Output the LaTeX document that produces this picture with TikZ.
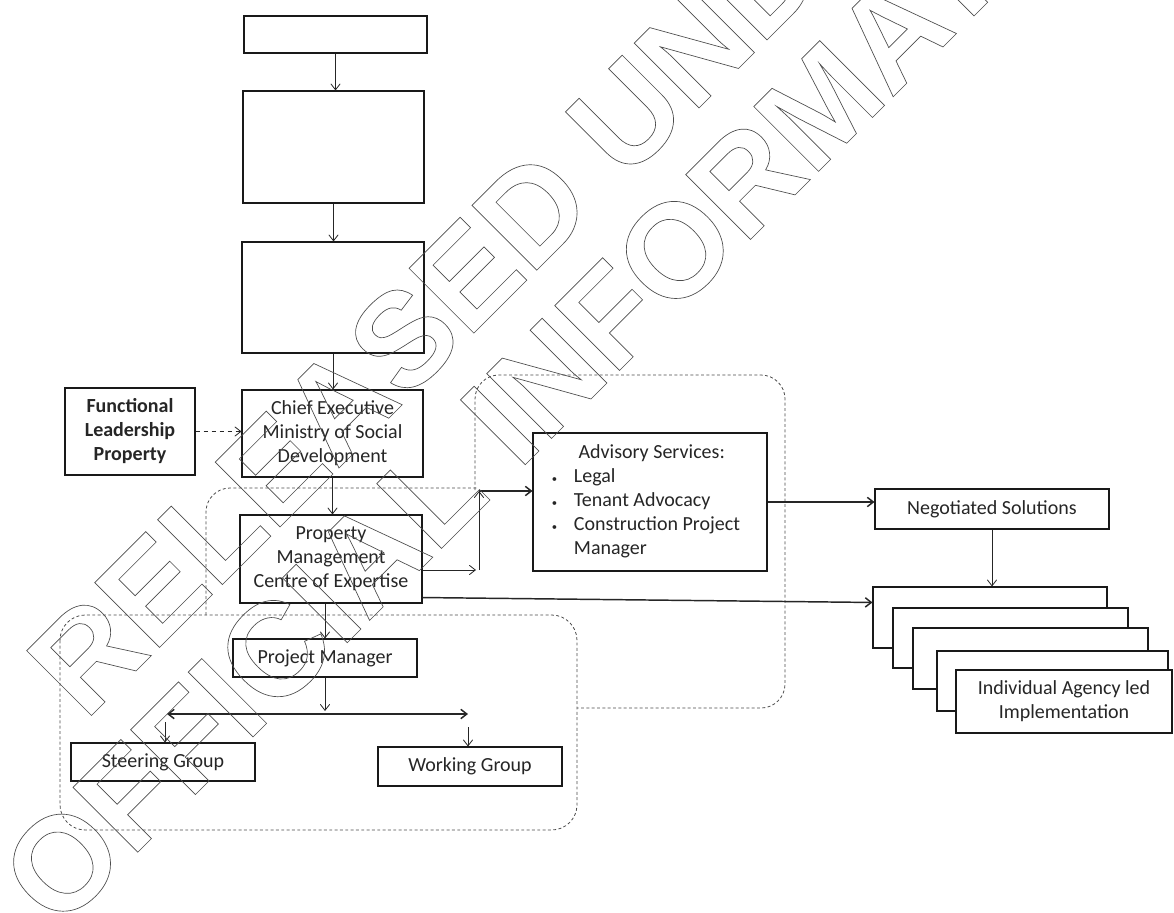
\documentclass[tikz,border=0pt]{standalone}
\usepackage{fontspec}
\setmainfont{Carlito}
\newfontfamily\wmfont{Liberation Sans}
\usetikzlibrary{arrows.meta,calc}
\newcommand\outl[1]{\special{pdf:literal direct 1 Tr 0.5 w 0.3 G}#1\special{pdf:literal direct 0 Tr 0 G}}
\begin{document}
\begin{tikzpicture}[x=0.75pt,y=-0.75pt,
  box/.style={draw=black!90, line width=0.8pt, fill=white, inner sep=0pt, align=center,
    text=black!85, font=\fontsize{15}{18}\selectfont},
  sz/.style 2 args={minimum width=#1*0.75pt, minimum height=#2*0.75pt},
  arr/.style={-{Straight Barb[length=4.5pt,width=7pt]}, line width=0.6pt, draw=black!85},
  arrboth/.style={{Straight Barb[length=4.5pt,width=7pt]}-{Straight Barb[length=4.5pt,width=7pt]}, line width=1.1pt, draw=black!85},
  thk/.style={line width=1.1pt},
  grp/.style={draw=black!70, line width=0.6pt, dash pattern=on 2.2pt off 1.8pt},
  wm/.style={rotate=45, anchor=base west, inner sep=0pt, font=\wmfont\bfseries\fontsize{100}{105}\selectfont}
]
\useasboundingbox (0,0) rectangle (1174,913);
\fill[white] (0,0) rectangle (1174,913);

% dashed groups
\draw[grp, rounded corners=18pt] (206,615) -- (206,488) -- (477,488);
\draw[grp, rounded corners=18pt] (475,490) -- (475,375) -- (785,375) -- (785,708) -- (577,708);
\draw[grp, rounded corners=19pt] (60,615) rectangle (577,830);

% boxes
\node[box, sz={183}{37}] (b1) at (335.5,34.5) {};
\node[box, sz={181}{112}] (b2) at (333.5,147) {};
\node[box, sz={182}{111}] (b3) at (333,297.5) {};
\node[box, sz={181}{87}] (ce) at (332.5,433.5) {Chief Executive\\Ministry of Social\\Development};
\node[box, sz={130}{87}, font=\fontsize{15}{18}\selectfont\bfseries] (fl) at (130,431.5) {Functional\\Leadership\\Property};
\node[box, sz={182}{88}] (pm) at (331,559) {Property\\Management\\Centre of Expertise};
\node[box, sz={234}{138}] (adv) at (650,502) {%
  \begin{tabular}{@{}p{16.5pt}@{}l@{}}
  \multicolumn{2}{@{}l@{}}{\hspace*{20pt}Advisory Services:}\\
  {\footnotesize\textbullet} & Legal\\
  {\footnotesize\textbullet} & Tenant Advocacy\\
  {\footnotesize\textbullet} & Construction Project\\
   & Manager
  \end{tabular}\hspace*{6pt}};
\node[box, sz={234}{40}] (neg) at (992,509) {Negotiated Solutions};
\node[box, sz={234}{61}] (s1) at (990,617.5) {};
\node[box, sz={235}{60}] (s2) at (1010.5,638) {};
\node[box, sz={235}{61}] (s3) at (1030.5,658.5) {};
\node[box, sz={231}{60}] (s4) at (1052.5,681) {};
\node[box, sz={216}{63}] (s5) at (1064,701.5) {Individual Agency led\\Implementation};
\node[box, sz={184}{38}] (proj) at (325,658) {Project Manager};
\node[box, sz={184}{38}] (steer) at (163,762) {Steering Group};
\node[box, sz={184}{39}] (work) at (470,766.5) {Working Group};

% junction coordinates
\coordinate (j1) at (476,570);
\coordinate (j2) at (479,570);
\coordinate (j3) at (479,491);
\coordinate (j4) at (324,711);
\coordinate (hl) at (167,714);
\coordinate (hr) at (468,714);
\coordinate (sl) at (165,722);
\coordinate (wr) at (468,727);

% connectors
\draw[arr] (b1.south) -- (b1.south |- b2.north);
\draw[arr] (b2.south) -- (b2.south |- b3.north);
\draw[arr] (b3.south) -- (b3.south |- ce.north);
\draw[arr, dashed] (fl.east) -- (fl.east -| ce.west);
\draw[arr] (ce.south) -- (ce.south |- pm.north);
\draw[arr] (pm.east |- j1) -- (j1);
\draw[arr] (j2) -- (j3);
\draw[arr, thk] (j3) -- (j3 -| adv.west);
\draw[arr, thk] (adv.east) -- (adv.east -| neg.west);
\draw[arr, thk] ($(pm.south east)+(0,-6)$) -- ($(s1.north west)+(0,16)$);
\draw[arr] (neg.south) -- (neg.south |- s1.north);
\draw[arr] (proj.north |- pm.south) -- (proj.north);
\draw[arr] (proj.south) -- (proj.south |- j4);
\draw[arrboth] (hl) -- (hr);
\draw[arr] (sl) -- (sl |- steer.north);
\draw[arr] (wr) -- (wr |- work.north);

% watermark
\node[wm] (wm1) at (85,722) {\outl{RELEASED UNDER THE}};
\node[wm] (wm2) at (58,932) {\outl{OFFICIAL INFORMATION ACT}};
\end{tikzpicture}
\end{document}
